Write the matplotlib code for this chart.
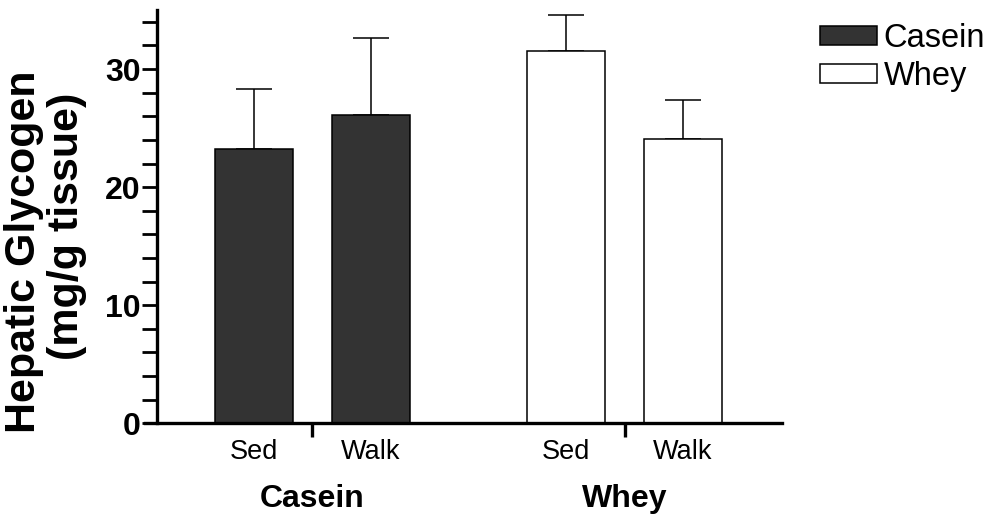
import numpy as np
import matplotlib
matplotlib.use('Agg')
import matplotlib.pyplot as plt
from matplotlib.patches import Patch

plt.rcParams['font.family'] = ['Liberation Sans', 'DejaVu Sans']

# data
groups = ['Casein', 'Whey']
conditions = ['Sed', 'Walk']
casein_mean = [23.2, 26.1]
casein_err = [5.1, 6.5]
whey_mean = [31.5, 24.1]
whey_err = [3.1, 3.3]

pos_casein = np.array([0.0, 1.5])
pos_whey = np.array([4.0, 5.5])
dividers = [0.75, 4.75]

lw = 1.1
fig = plt.figure(figsize=(9.89, 5.14), dpi=100)
ax = fig.add_axes([145/989, 1-423.3/514, 637/989, 413.3/514])

ax.errorbar(pos_casein, casein_mean, yerr=[np.zeros(2), casein_err], fmt='none',
            ecolor='black', elinewidth=lw, capsize=13.3, capthick=lw, zorder=1)
ax.errorbar(pos_whey, whey_mean, yerr=[np.zeros(2), whey_err], fmt='none',
            ecolor='black', elinewidth=lw, capsize=13.3, capthick=lw, zorder=1)
ax.bar(pos_casein, casein_mean, width=1.0, color='#333333', edgecolor='black', linewidth=lw, zorder=2)
ax.bar(pos_whey, whey_mean, width=1.0, color='white', edgecolor='black', linewidth=lw, zorder=2)

ax.set_xlim(-1.397, 6.769)
ax.set_ylim(0, 35)

for s in ['top', 'right']:
    ax.spines[s].set_visible(False)
ax.spines['left'].set_position(('data', -1.244))
ax.spines['left'].set_linewidth(2.4)
ax.spines['bottom'].set_linewidth(2.4)
ax.spines['bottom'].set_zorder(3)

ax.set_yticks([0, 10, 20, 30])
ax.set_yticks(np.arange(0, 35, 2), minor=True)
ax.tick_params(axis='y', which='both', direction='out', length=10.8, width=2.0, pad=1)
ax.tick_params(axis='y', which='major', labelsize=23)
for t in ax.get_yticklabels():
    t.set_fontweight('bold')

ax.set_xticks(np.concatenate([pos_casein, pos_whey]))
ax.set_xticklabels(conditions * 2, fontsize=19.5)
ax.set_xticks(dividers, minor=True)
ax.tick_params(axis='x', which='major', length=0, pad=11)
ax.tick_params(axis='x', which='minor', direction='out', length=10, width=2.4)

for x, g in zip(dividers, groups):
    ax.text(x, -0.2035, g, transform=ax.get_xaxis_transform(), ha='center', va='baseline',
            fontsize=23, fontweight='bold')

fig.text(35/989, 1-251.5/514, 'Hepatic Glycogen', rotation=90, rotation_mode='anchor',
         ha='center', va='baseline', fontsize=31, fontweight='bold')
fig.text(78/989, 1-226.7/514, '(mg/g tissue)', rotation=90, rotation_mode='anchor',
         ha='center', va='baseline', fontsize=31, fontweight='bold')

handles = [Patch(facecolor='#333333', edgecolor='black', linewidth=lw, label='Casein'),
           Patch(facecolor='white', edgecolor='black', linewidth=lw, label='Whey')]
fig.legend(handles=handles, loc='upper left', bbox_to_anchor=(820/989, 1-23/514),
           frameon=False, fontsize=23.5, handlelength=1.75, handleheight=0.55,
           handletextpad=0.2, labelspacing=0.22, borderpad=0, borderaxespad=0)

fig.savefig('out.png', dpi=100)
